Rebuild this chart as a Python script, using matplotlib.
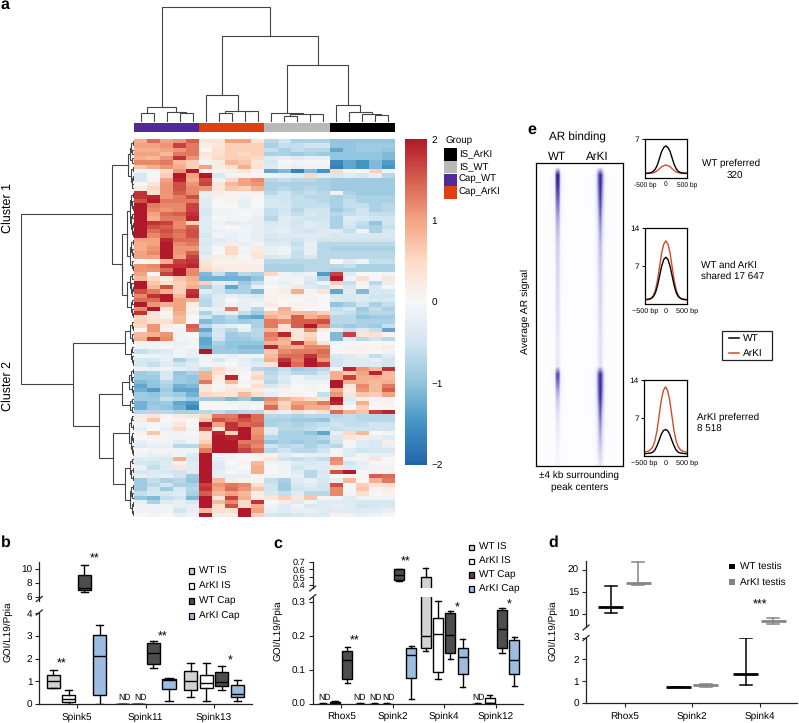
"""Rebuild of the five panel expression figure."""
import matplotlib
matplotlib.use('Agg')
import matplotlib.pyplot as plt
import numpy as np
from matplotlib.colors import LinearSegmentedColormap, ListedColormap
from matplotlib.patches import Rectangle

plt.rcParams['font.family'] = ['Liberation Sans', 'DejaVu Sans']
plt.rcParams['text.hinting'] = 'no_hinting'

W, H = 799, 723

# panel a, z scores in tenths, one row per gene
# columns: Cap_WT x5, Cap_ArKI x5, IS_WT x5, IS_ArKI x5
heat_rows = [
    [9, 14, 10, 11, 15, 3, 3, 10, 10, 3, -7, -5, -8, -8, -8, -10, -10, -10, -10, -10],
    [10, 10, 11, 17, 13, 2, 3, 6, 6, 6, -8, -6, -6, -5, -5, -10, -10, -9, -9, -9],
    [9, 9, 10, 11, 13, 0, 4, 6, 6, 6, -6, -8, -6, -7, -7, -13, -10, -9, -9, -10],
    [10, 10, 8, 13, 13, 3, 4, 6, 5, 6, -8, -8, -9, -8, -9, -10, -10, -10, -10, -11],
    [9, 8, 11, 18, 11, 2, 5, 6, 6, 5, -3, -2, -3, -2, -2, -10, -10, -10, -10, -11],
    [12, 12, 13, 8, 6, -1, 2, 8, 7, 3, -4, 0, -1, 0, 0, -16, -13, -15, -11, -14],
    [7, 9, 11, 9, 6, 10, 2, 4, 9, 3, -3, -1, -2, -1, -1, -17, -13, -15, -11, -15],
    [-1, 0, 5, 11, 20, 1, 1, 2, 3, 1, -13, -11, -17, -11, -15, 5, -1, 0, 6, -1],
    [-4, 0, 6, 20, 10, 20, -4, -1, 1, 0, -1, -2, -3, 5, -3, -4, -3, -4, -2, -7],
    [-4, 1, 10, 19, 9, 16, -1, 5, 10, 12, -7, -6, -7, -7, -8, -9, -9, -9, -9, -9],
    [0, 3, 11, 16, 11, 17, 3, 8, 10, 11, -8, -8, -8, -8, -8, -9, -9, -9, -9, -9],
    [2, 5, 11, 16, 12, 11, 3, 7, 6, 9, -8, -7, -8, -7, -8, -9, -9, -9, -9, -9],
    [18, 4, 11, 15, 12, -2, 2, 1, -1, 1, -7, -5, -7, -6, -7, -1, -8, -9, -9, -9],
    [18, 19, 11, 13, 16, -2, 1, 1, -1, 0, -5, -5, -6, -7, -7, -8, -7, -8, -8, -8],
    [16, 20, 13, 13, 13, -3, 0, 1, -2, 0, -4, -5, -6, -6, -7, -8, -6, -8, -8, -8],
    [20, 13, 12, 12, 17, -3, 0, 0, -2, 0, -4, -4, -6, -6, -6, -8, -6, -6, -8, -7],
    [20, 12, 11, 12, 17, -4, -1, -1, -1, -1, -6, -5, -7, -5, -5, -9, -7, -5, -8, -7],
    [20, 10, 14, 15, 18, -4, -1, -1, 0, -1, -6, -4, -6, -4, -5, -7, -6, -5, -6, -6],
    [20, 9, 13, 13, 19, -3, 0, -1, -1, -2, -7, -3, -4, -5, -5, -8, -3, -4, -5, -5],
    [20, 18, 17, 12, 6, -3, -1, -3, -2, -2, -4, -3, -5, -3, -4, -8, -4, -6, -10, -5],
    [20, 16, 15, 12, 15, -3, -1, 0, -1, -2, -3, -3, -4, -3, -4, -8, -5, -7, -8, -6],
    [20, 14, 16, 14, 16, -3, -2, -1, -1, -2, -3, -2, -4, -5, -3, -3, -6, -1, -8, -4],
    [20, 12, 15, 13, 16, -4, -1, -2, -1, -2, -4, -3, -3, -3, -3, -4, -4, -4, -4, -4],
    [10, 10, 19, 14, 14, -3, -3, -2, -1, -2, -5, -4, -5, -3, -5, -5, -5, -5, -5, -5],
    [9, 10, 20, 12, 13, -4, -2, 2, -2, 1, -3, -3, -6, -2, -7, -7, -7, -7, -7, -7],
    [9, 11, 20, 11, 11, -3, 0, 5, -1, 2, -2, -1, -5, -2, -7, -8, -8, -8, -8, -8],
    [10, 12, 20, 11, 15, -4, 0, 5, -1, 3, -2, -1, -6, -2, -7, -7, -7, -7, -7, -7],
    [10, 10, 20, 10, 17, -2, 2, 2, 0, 3, -4, -3, -6, -4, -7, -7, -7, -7, -7, -7],
    [0, 1, 9, 17, 18, 3, 1, 1, 1, 1, -7, -7, -7, -7, -7, 0, -3, -1, -6, -6],
    [11, 12, 18, 18, 19, 4, 2, 2, 2, 2, -8, -8, -8, -7, -7, -7, -6, -8, -8, -8],
    [11, 11, 14, 20, 12, 5, 3, 2, 2, 2, -8, -8, -8, -7, -7, -8, -8, -8, -8, -8],
    [10, 0, 17, 20, 12, -11, -6, -11, -7, -8, 5, -1, -2, -1, -14, 17, -3, 0, 0, -1],
    [8, 5, 2, 7, 9, -12, -12, -12, -12, -10, 0, -1, -1, -3, -8, 20, -1, 4, 0, 3],
    [20, 7, 4, 6, 8, 6, -2, -3, -9, -6, -1, -2, -1, -4, -1, 6, -6, 1, -7, -2],
    [20, 8, 16, 6, 9, -9, -5, -13, -8, -2, 0, -1, 3, -3, -5, 2, -4, 1, -4, 0],
    [16, 13, 9, 6, 18, -3, -5, -8, -8, -11, 1, 2, 9, -1, 3, -13, -3, -11, -4, -4],
    [12, 18, 20, 8, 19, -6, -3, -2, -3, -4, 1, 1, 1, 1, 0, -4, -4, -3, -5, -5],
    [14, 14, 20, 10, 9, -7, -3, 0, -2, -2, 1, 0, 0, -1, 0, -3, -4, -3, -4, -4],
    [20, 11, 9, 10, 2, -7, -3, -1, -2, -1, 2, 0, 1, 1, 0, -10, -8, -5, -8, -6],
    [12, 20, 3, 10, 1, -2, -2, 13, -2, -7, 0, 9, 1, 0, 0, -6, -4, -9, -6, -8],
    [18, 3, 1, 9, 2, -8, -3, -2, -6, -9, 7, 8, 8, 8, 6, -5, -6, -8, -7, -7],
    [5, 3, 1, 8, 0, -5, -9, -7, -12, -13, 9, 7, 15, 9, 11, -7, -7, -10, -9, -9],
    [6, 4, 4, 8, 0, -11, -9, -8, -9, -8, 13, 12, 15, 15, 16, -7, -7, -8, -8, -8],
    [5, 11, 2, 0, 15, -7, -3, -2, -1, -8, 13, 3, 15, 20, 12, -8, -9, -8, -9, -6],
    [0, 11, 1, -1, 14, -13, -5, -7, -2, -7, 8, 4, 3, 12, 2, -2, -6, -3, -6, -13],
    [8, 9, 11, -1, 0, -10, -4, -9, -8, -7, 13, 19, 3, 5, 0, -11, 17, 3, 4, 1],
    [9, 17, 12, -1, 1, -13, -5, -9, -9, -8, 12, 9, 3, 6, 0, -11, -3, -7, -5, -7],
    [1, -1, -1, -2, -1, -13, -8, -10, -10, -10, 9, 8, 18, 9, 3, -1, 0, 0, 0, 0],
    [-1, -1, 0, -1, 0, -12, -9, -10, -11, -11, 19, 10, 9, 12, 12, 0, 1, 1, 1, 2],
    [-6, -4, -3, -1, -2, 20, -9, -9, -10, -10, 7, 12, 13, 13, 14, 0, 1, 1, 0, -1],
    [-1, -1, -2, -1, -2, -1, -1, -2, -1, -1, 8, 14, 14, 18, 13, -4, -3, -2, -6, -3],
    [-4, -4, -2, -8, -5, -1, -4, -1, -2, -5, 9, 18, 13, 20, 11, -5, -3, -3, -2, -5],
    [-4, -6, -3, -5, -3, -1, -1, 0, -2, -3, 3, 20, 14, 20, 18, -5, -3, -3, -3, -5],
    [-1, -2, -1, -2, -3, -6, 5, 2, -1, -7, -8, -6, -9, -8, -7, 1, 19, 11, 8, 18],
    [-9, -8, -4, -10, -8, 9, 4, 1, 0, 3, -7, -5, -7, -7, -5, 9, 7, 10, 19, 8],
    [-9, -9, -4, -9, -10, 9, 2, 19, 0, 5, -6, -3, -1, -3, -3, 9, 17, 9, 9, 8],
    [-11, -10, -7, -9, -10, 13, 1, 8, -1, 2, -7, -4, -1, -1, -1, 20, 9, 9, 8, 9],
    [-13, -10, -8, -12, -11, 3, 0, 2, 0, 4, -4, -2, 0, -1, 0, 20, 3, 12, 8, 13],
    [-12, -14, -9, -13, -13, 3, 1, 3, 3, 2, -1, 1, 0, 1, 0, 9, 2, 11, 8, 15],
    [-9, -10, -8, -9, -12, 5, 4, 3, 8, 4, -2, 1, 1, 0, -6, 11, 3, 7, 6, 10],
    [-9, -9, -6, -7, -9, -9, -9, -11, -9, -13, 12, 9, 7, 5, 3, 20, -3, 2, -1, 1],
    [-12, -10, -9, -13, -14, 0, 0, -1, -1, -1, 10, 5, 10, 10, 13, 19, -2, 9, 0, 1],
    [-12, -9, -10, -12, -16, 0, 0, 0, -1, 0, 14, 6, 12, 9, 9, 4, 0, 6, 0, 0],
    [-7, -7, -7, -8, -8, -7, -6, -8, -7, -7, 3, 2, 4, 2, 4, 14, 9, 7, 17, 19],
    [2, 3, 1, 2, 3, 5, 13, 13, 18, 14, -7, -7, -8, -7, -7, -7, -6, -7, -7, -7],
    [2, 7, 0, 1, 0, 7, 16, 14, 16, 14, -8, -8, -9, -9, -10, -6, -6, -7, -7, -7],
    [-1, 0, -1, 3, 0, 20, 10, 18, 14, 15, -8, -7, -8, -7, -6, -5, -6, -6, -5, -5],
    [-2, 0, -2, 5, -1, 16, 3, 18, 20, 11, -3, -7, -7, -6, -5, -6, -5, -5, -5, -5],
    [1, 7, 1, -1, 0, 4, 19, 6, 20, 11, -3, -8, -8, -10, -13, -2, 5, 8, 0, -1],
    [0, 1, -1, -1, -1, 4, 20, 19, 20, 12, -7, -8, -8, -8, -7, -4, 3, 2, -2, -3],
    [-2, -1, -1, -3, -1, 6, 20, 20, 13, 13, -10, -8, -9, -8, -9, -5, 1, -3, -4, 2],
    [-3, -2, -2, -7, -7, 9, 20, 20, 15, 12, -5, -7, -6, -8, -6, -7, -1, -3, -4, -2],
    [0, -1, -1, -1, -1, 13, 20, 20, 17, 14, -7, -5, -7, -7, -5, -1, -3, -5, -4, -4],
    [-1, -2, -2, -1, -3, 20, 0, 1, 0, 1, 1, -3, -1, -2, -2, 1, -3, -1, -2, -2],
    [-3, -3, -4, 9, -4, 20, -2, -1, 0, 0, 3, -5, -6, -5, -6, 12, -1, 1, 3, 0],
    [-4, -5, -3, -1, -3, 20, -3, 0, 1, 8, -1, -1, -3, -4, -3, 11, -5, -2, 0, 0],
    [-2, -6, -3, 3, -3, 20, -3, -1, 0, 9, 0, -1, -5, -3, -3, 3, -3, -2, -1, -1],
    [-4, -3, -4, -5, -3, 20, -2, 0, -1, 9, 0, -1, -3, -7, -4, 16, 20, 0, -1, 1],
    [-2, -3, -2, -5, -9, 20, -2, -2, -2, 0, -1, -1, -2, -7, -3, 0, 1, 0, 15, 14],
    [-9, -6, -8, -7, -10, 20, 8, 2, 1, 1, -6, -8, -3, -2, -4, -2, 8, 0, 9, 13],
    [-9, -7, -5, -8, -8, 17, 11, 13, 12, 4, -5, -9, -4, -3, -5, 16, 0, 6, 3, 4],
    [-9, -5, -9, -4, -7, 18, 10, 14, 11, 7, -5, -9, -5, -4, -5, 12, 0, 7, 1, 2],
    [-6, -4, -4, -3, -8, 15, 8, 10, 8, 2, -4, -6, -3, -7, -7, 12, -1, 4, 0, 1],
    [-10, -11, -6, -5, -11, 20, 3, 17, 9, 2, 3, 6, 3, 7, 1, -1, -3, -1, -1, -1],
    [-2, -8, -3, -2, -4, 20, 8, 12, 5, 18, 0, 2, -3, -1, -3, -3, -3, -4, -4, -4],
    [-1, -1, -1, -2, -2, 20, 4, 16, 5, 9, -1, -3, -1, -4, -3, -2, -3, -5, -4, -4],
    [-1, -1, -1, -5, -2, 8, 4, 4, 20, 10, -2, -3, -2, -2, -3, -3, -3, -3, -3, -2],
    [0, -1, 0, -2, -1, 20, 2, 2, 20, 6, -4, -5, -4, -3, -3, 1, -1, -2, -1, 0],
]

# sample groups along the top bar, 0 Cap_WT 1 Cap_ArKI 2 IS_WT 3 IS_ArKI
col_groups = [0] * 5 + [1] * 5 + [2] * 5 + [3] * 5
group_colors = ['#52299b', '#e03f10', '#b9b9b9', '#000000']
group_names = ['IS_ArKI', 'IS_WT', 'Cap_WT', 'Cap_ArKI']
group_swatch = ['#000000', '#b9b9b9', '#52299b', '#e03f10']

# dendrograms as [height, left, right], ints are leaves
col_tree = [114.3,
            [15, [9, 0, 1], [10, 2, [8.3, 3, 4]]],
            [85.7,
             [26.3, 5, [11, [9, 6, 7], [10.3, 8, 9]]],
             [56.7,
              [9, 10, [8, [6, 11, 12], [7.3, 13, 14]]],
              [16.3, 15, [9.7, 16, [7.7, 17, [6.7, 18, 19]]]]]]]

row_a = [4.5, [3, [1.5, 0, 1], [2, 2, 3]], [2.5, 4, 5]]
row_b = [3.5, [1.5, 6, 7], [2.5, [1.5, 8, 9], [2, 10, 11]]]
row_c = [4, [3, [1.5, 12, 13], [2, 14, [1, 15, 16]]],
         [3, [2, 17, 18], [2.5, [1.5, 19, 20], [1.5, 21, 22]]]]
row_d = [4, [3, [1.5, 23, 24], [2, 25, [1, 26, 27]]], [2.5, 28, [1.5, 29, 30]]]
row_e = [4, [2.5, 31, 32], [3, 33, [2, [1, 34, 35], 36]]]
row_f = [3.5, [2, 37, 38], [2.5, 39, [1.5, 40, 41]]]
row_g = [4, [2.5, 42, [1.5, 43, 44]], [2.5, 45, [1.5, 46, 47]]]
row_h = [3.5, [2, 48, 49], [2.5, 50, [1.5, 51, 52]]]
row_i = [5, [3, [1.5, 53, 54], [2, 55, 56]], [2.5, 57, [1.5, 58, 59]]]
row_j = [4, [2.5, 60, 61], [2, 62, 63]]
row_k = [5, [3, [2, 64, 65], [1.5, 66, 67]],
         [3.5, [2, 68, [1, 69, 70]], [2, 71, [1, 72, 73]]]]
row_l = [4, [2.5, 74, 75], [3, [1.5, 76, 77], [1.5, 78, 79]]]
row_m = [4, [3, [1.5, 80, 81], [2, 82, 83]], [2.5, [1.5, 84, 85], [1.5, 86, 87]]]
row_tree = [113.3,
            [22.3, [6, row_a, row_b],
             [12.3, [6.7, row_c, row_d], [7.3, row_e, row_f]]],
            [61, [9.3, row_g, row_h],
             [35, [12.3, row_i, row_j],
              [21, row_k, [9, row_l, row_m]]]]]

# panel b, box stats as (low, q1, median, q3, high)
b_groups = ['Spink5', 'Spink11', 'Spink13']
b_centers = [0.0, 4.46, 8.87]
b_series = ['WT IS', 'ArKI IS', 'WT Cap', 'ArKI Cap']
b_wt_is = [(0.69, 0.7, 1.03, 1.3, 1.52), (0, 0, 0, 0, 0), (0.3, 0.6, 1.03, 1.47, 1.8)]
b_arki_is = [(0.0, 0.1, 0.22, 0.38, 0.62), (0, 0, 0, 0, 0), (0.15, 0.72, 0.93, 1.28, 1.82)]
b_wt_cap = [(6.8, 7.0, 7.3, 9.2, 10.6), (1.6, 1.77, 2.25, 2.7, 2.77), (0.62, 0.8, 0.95, 1.4, 1.68)]
b_arki_cap = [(0.02, 0.38, 2.12, 3.05, 3.5), (0.13, 0.65, 1.05, 1.1, 1.15), (0.12, 0.3, 0.42, 0.82, 1.07)]

# panel c
c_groups = ['Rhox5', 'Spink2', 'Spink4', 'Spink12']
c_centers = [0.0, 4.18, 8.35, 12.54]
c_wt_is = [(0, 0, 0, 0, 0.002), (0, 0, 0, 0, 0.002), (0.157, 0.165, 0.2, 0.507, 0.614), (0, 0, 0, 0, 0.002)]
c_arki_is = [(0, 0.002, 0.004, 0.006, 0.008), (0, 0, 0, 0, 0.002),
             (0.072, 0.094, 0.206, 0.255, 0.303), (0.001, 0.002, 0.003, 0.016, 0.025)]
c_wt_cap = [(0.06, 0.073, 0.13, 0.157, 0.168), (0.45, 0.47, 0.53, 0.6, 0.61),
            (0.133, 0.15, 0.205, 0.268, 0.275), (0.15, 0.164, 0.222, 0.277, 0.283)]
c_arki_cap = [(0, 0, 0, 0, 0.002), (0.014, 0.077, 0.143, 0.166, 0.172),
              (0.05, 0.087, 0.137, 0.164, 0.192), (0.052, 0.089, 0.128, 0.19, 0.198)]

# panel d, (low, median, high)
d_groups = ['Rhox5', 'Spink2', 'Spink4']
d_centers = [0.0, 2.47, 4.94]
d_wt = [(10.1, 11.45, 16.4), (0.72, 0.735, 0.75), (0.82, 1.34, 3.0)]
d_arki = [(16.5, 17.0, 21.7), (0.74, 0.82, 0.85), (7.6, 8.2, 8.9)]

# panel e, strength of the two bands going down the peak list
band_wt = [0.0, 0.9, 0.85, 0.72, 0.6, 0.5, 0.42, 0.36, 0.32, 0.28, 0.25, 0.23, 0.21,
           0.2, 0.19, 0.18, 0.17, 0.16, 0.15, 0.14, 0.13, 0.12, 0.11, 0.1, 0.1, 0.1,
           0.7, 0.55, 0.4, 0.3, 0.22, 0.16, 0.12, 0.1, 0.08, 0.06, 0.05, 0.04]
band_arki = [0.0, 1.0, 0.95, 0.85, 0.75, 0.65, 0.55, 0.47, 0.4, 0.36, 0.32, 0.3, 0.28,
             0.26, 0.25, 0.23, 0.22, 0.21, 0.2, 0.19, 0.18, 0.17, 0.16, 0.15, 0.15, 0.15,
             1.0, 1.0, 0.95, 0.85, 0.7, 0.58, 0.48, 0.4, 0.33, 0.28, 0.22, 0.15]
# across the frame, one value per 2 pixels
cross_wt = [0, 0, 0, 0, 0, 0, 0, 0.01, 0.02, 0.1, 0.85, 0.85, 0.1, 0.02, 0.01, 0, 0, 0, 0, 0, 0, 0,
            0, 0, 0, 0, 0, 0, 0, 0, 0, 0, 0, 0, 0, 0, 0, 0, 0, 0, 0, 0, 0, 0]
cross_arki = [0, 0, 0, 0, 0, 0, 0, 0, 0, 0, 0, 0, 0, 0, 0, 0, 0, 0, 0, 0, 0, 0,
              0, 0, 0, 0, 0, 0, 0.01, 0.02, 0.1, 0.45, 0.95, 0.45, 0.1, 0.02, 0.01, 0, 0, 0, 0, 0, 0, 0]
band_bg = 0.012

bp = [-500, -450, -400, -350, -300, -250, -200, -150, -100, -50, 0,
      50, 100, 150, 200, 250, 300, 350, 400, 450, 500]
top_wt = [0.8, 0.8, 0.85, 0.95, 1.15, 1.6, 2.4, 3.6, 4.8, 5.5, 5.8,
          5.5, 4.8, 3.6, 2.4, 1.6, 1.15, 0.95, 0.85, 0.8, 0.8]
top_arki = [0.8, 0.8, 0.8, 0.85, 0.9, 1.05, 1.3, 1.65, 2.0, 2.2, 2.3,
            2.2, 2.0, 1.65, 1.3, 1.05, 0.9, 0.85, 0.8, 0.8, 0.8]
mid_wt = [0.85, 0.9, 0.95, 1.1, 1.4, 2.1, 3.4, 5.2, 7.0, 8.2, 8.6,
          8.2, 7.0, 5.2, 3.4, 2.1, 1.4, 1.1, 0.95, 0.9, 0.85]
mid_arki = [0.8, 0.85, 0.9, 1.1, 1.6, 2.6, 4.4, 6.9, 9.4, 11.0, 11.6,
            11.0, 9.4, 6.9, 4.4, 2.6, 1.6, 1.1, 0.9, 0.85, 0.8]
low_wt = [0.4, 0.45, 0.5, 0.55, 0.7, 1.1, 1.9, 2.9, 4.0, 4.7, 4.9,
          4.7, 4.0, 2.9, 1.9, 1.1, 0.7, 0.55, 0.5, 0.45, 0.4]
low_arki = [0.7, 0.8, 0.9, 1.2, 1.7, 2.8, 4.7, 7.5, 10.3, 12.1, 12.8,
            12.1, 10.3, 7.5, 4.7, 2.8, 1.7, 1.2, 0.9, 0.8, 0.7]

BOX_COLORS = ['#d2d2d2', '#ffffff', '#4d4d4d', '#9dbde0']
LINE = '#222222'
BASE = 7.2

fig = plt.figure(figsize=(W / 100, H / 100), dpi=100)


def px_axes(x0, y0, x1, y1):
    """Axes from a box given in picture pixels, y going down."""
    return fig.add_axes([x0 / W, 1 - y1 / H, (x1 - x0) / W, (y1 - y0) / H])


def draw_tree(ax, node, vertical):
    """Draw a [height, left, right] tree, returns leaf position and height."""
    if not isinstance(node, list):
        return node + 0.5, 0
    p0, h0 = draw_tree(ax, node[1], vertical)
    p1, h1 = draw_tree(ax, node[2], vertical)
    hs = [h0, node[0], node[0], h1]
    ps = [p0, p0, p1, p1]
    if vertical:
        ax.plot(ps, hs, color='#444444', lw=0.8, solid_joinstyle='miter')
    else:
        ax.plot(hs, ps, color='#444444', lw=0.8, solid_joinstyle='miter')
    return (p0 + p1) / 2, node[0]


def box_stats(rows):
    return [dict(whislo=r[0], q1=r[1], med=r[2], q3=r[3], whishi=r[4]) for r in rows]


def draw_boxes(ax, series, centers, width):
    """Four boxes per group, coloured by series."""
    for k, rows in enumerate(series):
        pos = [c + k - 1.5 for c in centers]
        ax.bxp(box_stats(rows), positions=pos, widths=width, patch_artist=True,
               showfliers=False, manage_ticks=False, capwidths=width * 0.55,
               boxprops=dict(facecolor=BOX_COLORS[k], edgecolor='black', linewidth=1.0),
               medianprops=dict(color='black', linewidth=1.0),
               whiskerprops=dict(color='black', linewidth=1.0),
               capprops=dict(color='black', linewidth=1.0))


def style_axis(ax, bottom):
    for side in ['top', 'right']:
        ax.spines[side].set_visible(False)
    ax.spines['bottom'].set_visible(bottom)
    for side in ['left', 'bottom']:
        ax.spines[side].set_color(LINE)
        ax.spines[side].set_linewidth(0.9)
    ax.tick_params(length=3, width=0.8, labelsize=BASE, pad=2, color=LINE)
    ax.patch.set_alpha(0)


def broken_panel(x0, x1, upper_box, lower_box, upper_lim, lower_lim, xlim):
    upper = px_axes(x0, upper_box[0], x1, upper_box[1])
    lower = px_axes(x0, lower_box[0], x1, lower_box[1])
    upper.set_ylim(*upper_lim)
    lower.set_ylim(*lower_lim)
    for ax in (upper, lower):
        ax.set_xlim(*xlim)
    style_axis(upper, False)
    style_axis(lower, True)
    upper.set_xticks([])
    return upper, lower


# ---- panel a ----
heat = np.array(heat_rows) / 10.0
rdbu = LinearSegmentedColormap.from_list('rdbu', ['#2166ac', '#4393c3', '#92c5de', '#d1e5f0',
                                                  '#f7f7f7', '#fddbc7', '#f4a582', '#d6604d',
                                                  '#b2182b'])
heat_ax = px_axes(134, 139, 394.5, 517)
mesh = heat_ax.imshow(heat, cmap=rdbu, vmin=-2, vmax=2, aspect='auto', interpolation='nearest')
heat_ax.axis('off')

bar_ax = px_axes(134, 123, 394.5, 132)
bar_ax.imshow([col_groups], cmap=ListedColormap(group_colors), aspect='auto', interpolation='nearest')
bar_ax.axis('off')

top_ax = px_axes(134, 6, 394.5, 121.7)
draw_tree(top_ax, col_tree, True)
top_ax.set_xlim(0, 20)
top_ax.set_ylim(0, 115.7)
top_ax.axis('off')

side_ax = px_axes(20.5, 139, 134, 517)
draw_tree(side_ax, row_tree, False)
side_ax.set_xlim(113.5, 0)
side_ax.set_ylim(len(heat_rows), 0)
side_ax.axis('off')

cax = px_axes(405.3, 139, 427, 464.7)
cbar = fig.colorbar(mesh, cax=cax)
cbar.outline.set_visible(False)
cbar.set_ticks([-2, -1, 0, 1, 2], labels=['\u22122', '\u22121', '0', '1', '2'])
cbar.ax.tick_params(length=0, labelsize=BASE, pad=3)

# ---- panel b ----
b_up, b_low = broken_panel(39.3, 251.7, (561.7, 601), (613.3, 704),
                           (5.47, 11.09), (0, 4), (-2.4, 11.3))
b_all = [b_wt_is, b_arki_is, b_wt_cap, b_arki_cap]
for ax in (b_up, b_low):
    draw_boxes(ax, b_all, b_centers, 0.86)
b_up.set_yticks([6, 8, 10])
b_low.set_yticks([0, 1, 2, 3, 4])
b_low.set_xticks(b_centers, b_groups)
b_low.tick_params(axis='x', pad=3)

# ---- panel c ----
c_up, c_low = broken_panel(312.7, 523, (561.7, 587.7), (596.7, 703.7),
                           (0.365, 0.7), (0, 0.317), (-2.32, 14.74))
c_all = [c_wt_is, c_arki_is, c_wt_cap, c_arki_cap]
for ax in (c_up, c_low):
    draw_boxes(ax, c_all, c_centers, 0.81)
c_up.set_yticks([0.4, 0.5, 0.6, 0.7])
c_up.tick_params(axis='y', labelsize=6.6, pad=2)
c_low.set_yticks([0, 0.1, 0.2, 0.3])
c_low.set_xticks(c_centers, c_groups)
c_low.tick_params(axis='x', pad=3)

# ---- panel d ----
d_up, d_low = broken_panel(586, 796.7, (561, 626.7), (637.7, 703),
                           (7, 22), (0, 3), (-1.41, 6.3))
for ax in (d_up, d_low):
    for rows, off, col in [(d_wt, -0.5, 'black'), (d_arki, 0.5, '#858585')]:
        stats = [dict(whislo=r[0], q1=r[1], med=r[1], q3=r[1], whishi=r[2]) for r in rows]
        ax.bxp(stats, positions=[c + off for c in d_centers], widths=0.91, showbox=False,
               showfliers=False, manage_ticks=False, capwidths=0.43,
               medianprops=dict(color=col, linewidth=2.0, solid_capstyle='butt'),
               whiskerprops=dict(color=col, linewidth=1.1),
               capprops=dict(color=col, linewidth=1.1))
d_up.set_yticks([10, 15, 20])
d_low.set_yticks([0, 1, 2, 3])
d_low.set_xticks(d_centers, d_groups)
d_low.tick_params(axis='x', pad=3)

# ---- panel e ----
band_cmap = LinearSegmentedColormap.from_list('band', ['#ffffff', '#c9c5ec', '#6a5cc0', '#2f1e8e'])
band_img = band_bg + np.outer(band_wt, cross_wt) + np.outer(band_arki, cross_arki)
band_img[0] = 0
e_ax = px_axes(535.7, 163.3, 622.7, 466)
e_ax.imshow(band_img, cmap=band_cmap, vmin=0, vmax=0.8, aspect='auto', interpolation='bilinear')
e_ax.set_xticks([])
e_ax.set_yticks([])
for spine in e_ax.spines.values():
    spine.set_linewidth(0.9)

profile_boxes = [(645, 139.3, 686.7, 177.7), (645, 227.7, 686.7, 304.3), (644.3, 380.3, 686.7, 456)]
profile_lines = [(top_wt, top_arki), (mid_wt, mid_arki), (low_arki, low_wt)]
profile_tops = [7, 14, 14]
profile_ticks = [[7], [7, 14], [7, 14]]
profile_labels = [['-500 bp', '0', '500 bp'], ['\u2212500 bp', '0', '500 bp'], ['\u2212500 bp', '0', '500 bp']]
for k, rect in enumerate(profile_boxes):
    ax = px_axes(*rect)
    first, second = profile_lines[k]
    if k == 2:
        ax.plot(bp, second, color='black', lw=1.0)
        ax.plot(bp, first, color='#d5492b', lw=1.0)
    else:
        ax.plot(bp, second, color='#d5492b', lw=1.0)
        ax.plot(bp, first, color='black', lw=1.0)
    ax.set_xlim(-500, 500)
    ax.set_ylim(0, profile_tops[k])
    ax.set_yticks(profile_ticks[k])
    ax.set_xticks([-500, 0, 500], profile_labels[k])
    ax.tick_params(axis='x', length=0, labelsize=4.8 if k == 0 else 5.2, pad=2.5)
    ax.tick_params(axis='y', length=2.5, width=0.7, labelsize=6, pad=1.5)
    for spine in ax.spines.values():
        spine.set_linewidth(0.9)

# ---- pixel overlay for labels and legends ----
ov = fig.add_axes([0, 0, 1, 1], zorder=10)
ov.set_xlim(0, W)
ov.set_ylim(H, 0)
ov.axis('off')


def label(x, y, s, size=BASE, **kw):
    kw.setdefault('va', 'center')
    ov.text(x, y, s, fontsize=size, **kw)


def slash(x, y):
    ov.plot([x - 3, x + 3], [y + 2.5, y - 2.5], color=LINE, lw=0.9)


def legend_squares(x, ys, names, colors, text_x):
    for y, name, col in zip(ys, names, colors):
        ov.add_patch(Rectangle((x - 2.6, y - 2.6), 5.2, 5.2, fc=col, ec='black', lw=0.9))
        label(text_x, y, name)


for letter, x, y in [('a', 1, 5), ('b', 1, 543), ('c', 273, 544), ('d', 548, 543), ('e', 527, 130)]:
    label(x, y, letter, size=11.5, fontweight='bold')

label(8, 208, 'Cluster 1', size=9, rotation=90, ha='center')
label(8, 386, 'Cluster 2', size=9, rotation=90, ha='center')

label(446, 141, 'Group', size=7)
for k, (name, col) in enumerate(zip(group_names, group_swatch)):
    ov.add_patch(Rectangle((444.3, 148.3 + 12.6 * k), 12.4, 12.6, fc=col, ec='none'))
    label(459, 154.6 + 12.6 * k, name, size=6.9)

for x, y, s in [(94.5, 557, '**'), (61.5, 662, '**'), (163, 635, '**'), (230, 659, '*')]:
    label(x, y + 2, s, size=9, ha='center')
for x in [125, 140.5]:
    label(x, 697.5, 'ND', size=6.2, ha='center')
label(8, 631.7, 'GOI/L19/Ppia', rotation=90, ha='center')
legend_squares(191.5, [571, 586, 601, 616], b_series, BOX_COLORS, 199)
slash(39.3, 599)
slash(39.3, 612.5)

for x, y, s in [(406, 560, '**'), (354.3, 639.3, '**'), (457.3, 606, '*'), (509.3, 602.7, '*')]:
    label(x, y + 2, s, size=9, ha='center')
for x in [325, 360, 375.3, 389, 478.3]:
    label(x, 697.5, 'ND', size=6.2, ha='center')
label(278, 631, 'GOI/L19/Ppia', rotation=90, ha='center')
legend_squares(471.5, [547.5, 561.5, 575, 589], b_series, BOX_COLORS, 479)
slash(312.7, 588.5)
slash(312.7, 597)

label(760, 605, '***', size=9, ha='center')
label(553, 631, 'GOI/L19/Ppia', rotation=90, ha='center')
for y, name, col in [(566.3, 'WT testis', 'black'), (582, 'ArKI testis', '#858585')]:
    ov.add_patch(Rectangle((729, y - 2.6), 5.5, 5.2, fc=col, ec='none'))
    label(740.5, y, name)
slash(586, 627.5)
slash(586, 638)

label(577.5, 137.7, 'AR binding', size=8.4, ha='center')
label(557, 156.7, 'WT', size=8.4, ha='center')
label(597, 156.7, 'ArKI', size=8.4, ha='center')
label(525, 311, 'Average AR signal', size=7.5, rotation=90, ha='center')
label(579.3, 475.7, '\u00b14 kb surrounding', size=7.2, ha='center')
label(579.3, 487.7, 'peak centers', size=7.2, ha='center')
label(701.7, 163, 'WT preferred', size=7.1)
label(735, 176.7, '320', size=7.1, ha='center')
label(701, 265, 'WT and ArKI', size=7.1)
label(701, 276.5, 'shared 17 647', size=7.1)
label(697.3, 417.3, 'ArKI preferred', size=7.1)
label(697.3, 429, '8 518', size=7.1)

ov.add_patch(Rectangle((722.3, 330.7), 49.7, 29, fc='white', ec='#222222', lw=0.9))
ov.plot([728.5, 739], [338.3, 338.3], color='black', lw=1.1)
ov.plot([728.5, 739], [353.3, 353.3], color='#d5492b', lw=1.1)
label(743, 338, 'WT', size=7.3)
label(743, 353.3, 'ArKI', size=7.3)

fig.savefig('out.png', dpi=100)
